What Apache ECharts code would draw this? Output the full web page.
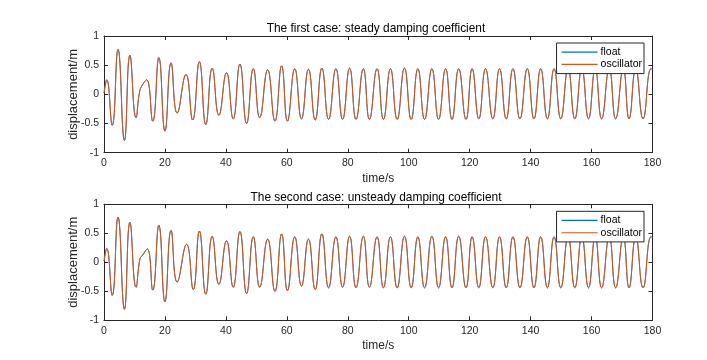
<!DOCTYPE html>
<html>
<head>
<meta charset="utf-8">
<script src="https://cdn.jsdelivr.net/npm/echarts@6/dist/echarts.min.js"></script>
<style>html,body{margin:0;padding:0;background:#fff}#c{width:707px;height:360px}</style>
</head>
<body>
<div id="c"></div>
<script>
// ---- data (extrema of the displacement curves) ----
const titles = ['The first case: steady damping coefficient', 'The second case: unsteady damping coefficient'];
const seriesNames = ['float', 'oscillator'];
const xTicks = { min: 0, max: 180, step: 20 };
const yTicks = { min: -1, max: 1, step: 0.5 };

const case1Time = [0, 0.9, 2.7, 4.6, 6.7, 8.5, 10.5, 11.7, 12.6, 14.0, 16.0, 18.0, 20.0, 22.0, 24.0, 26.9, 29.1, 31.3, 33.4, 35.5, 37.7, 40.2, 42.4, 44.6, 46.8, 49.0, 51.1, 53.7, 56.1, 58.3,
  60.2, 62.6, 64.8, 67.1, 69.3, 71.5, 73.7, 76.1, 78.3, 80.6, 82.7, 85.1, 87.1, 89.6, 91.7, 94.0, 96.2, 98.6, 100.8, 103.0, 105.2, 107.6, 109.8, 112.1, 114.2, 116.4, 118.8,
  120.8, 123.0, 125.2, 127.6, 129.8, 132.0, 134.2, 136.5, 138.9, 141.1, 143.3, 145.5, 147.7, 149.9, 152.3, 154.5, 156.8, 159.0, 161.2, 163.3, 165.8, 167.9, 170.4, 172.3, 174.5, 176.9, 179.5, 180];
const case1Displacement = [0.02, 0.25, -0.53, 0.77, -0.79, 0.67, -0.40, 0.05, 0.16, 0.25, -0.46, 0.63, -0.63, 0.54, -0.32, 0.34, -0.44, 0.56, -0.52, 0.45, -0.36, 0.37, -0.42, 0.52, -0.50, 0.44, -0.40, 0.42, -0.46, 0.49,
  -0.46, 0.44, -0.42, 0.43, -0.44, 0.45, -0.43, 0.44, -0.43, 0.45, -0.43, 0.44, -0.43, 0.44, -0.43, 0.44, -0.43, 0.45, -0.43, 0.44, -0.43, 0.44, -0.43, 0.44, -0.43, 0.44, -0.43,
  0.44, -0.42, 0.44, -0.42, 0.44, -0.42, 0.44, -0.42, 0.44, -0.42, 0.44, -0.42, 0.44, -0.42, 0.44, -0.42, 0.44, -0.42, 0.44, -0.42, 0.44, -0.42, 0.44, -0.42, 0.44, -0.42, 0.44, 0.43];

const case2Time = [0, 0.9, 2.7, 4.6, 6.7, 8.5, 10.5, 11.8, 12.6, 14.2, 16.0, 18.0, 20.0, 22.0, 24.0, 27.1, 29.3, 31.3, 33.4, 35.5, 37.7, 40.2, 42.4, 44.6, 46.8, 49.0, 51.1, 53.7, 56.1, 58.3,
  60.2, 62.6, 64.8, 67.1, 69.3, 71.5, 73.7, 76.1, 78.3, 80.6, 82.7, 85.1, 87.1, 89.6, 91.7, 94.0, 96.2, 98.6, 100.8, 103.0, 105.2, 107.6, 109.8, 112.1, 114.2, 116.4, 118.8,
  120.8, 123.0, 125.2, 127.6, 129.8, 132.0, 134.2, 136.5, 138.9, 141.1, 143.3, 145.5, 147.7, 149.9, 152.3, 154.5, 156.8, 159.0, 161.2, 163.3, 165.8, 167.9, 170.4, 172.3, 174.5, 176.9, 179.5, 180];
const case2Displacement = [0.02, 0.24, -0.57, 0.78, -0.81, 0.69, -0.43, 0.06, 0.12, 0.23, -0.48, 0.64, -0.68, 0.55, -0.34, 0.31, -0.47, 0.54, -0.55, 0.45, -0.38, 0.37, -0.43, 0.53, -0.54, 0.44, -0.43, 0.40, -0.50, 0.49,
  -0.49, 0.44, -0.41, 0.40, -0.47, 0.49, -0.44, 0.44, -0.43, 0.45, -0.44, 0.45, -0.43, 0.44, -0.44, 0.44, -0.44, 0.45, -0.44, 0.44, -0.44, 0.45, -0.44, 0.44, -0.44, 0.45, -0.44,
  0.44, -0.44, 0.44, -0.44, 0.44, -0.44, 0.44, -0.44, 0.44, -0.44, 0.44, -0.44, 0.44, -0.44, 0.44, -0.44, 0.44, -0.44, 0.44, -0.44, 0.44, -0.44, 0.44, -0.44, 0.44, -0.44, 0.44, 0.43];

// ---- chart ----
const FONT = '"Liberation Sans", Arial, sans-serif';
const AX = '#262626';
const colors = ['#0072BD', '#D95319'];
const pairs = (t, v) => t.map((x, i) => [x, v[i]]);
const cases = [pairs(case1Time, case1Displacement), pairs(case2Time, case2Displacement)];
const grids = [{ left: 104, right: 54.5, top: 36, height: 116.7 }, { left: 104, right: 54.5, top: 204.3, height: 116 }];
const titleTops = [18, 187];

const option = { animation: false, backgroundColor: '#fff', grid: [], xAxis: [], yAxis: [], title: [], legend: [], series: [] };
grids.forEach((g, i) => {
  option.grid.push(Object.assign({ show: false }, g));
  option.title.push({ text: titles[i], left: 371, top: titleTops[i], textAlign: 'center',
    textStyle: { fontFamily: FONT, fontSize: 11.9, fontWeight: 'normal', color: '#000' } });
  const tick = { show: true, inside: true, length: 4, lineStyle: { color: AX, width: 1 } };
  const xBase = { type: 'value', gridIndex: i, min: xTicks.min, max: xTicks.max, interval: xTicks.step, splitLine: { show: false },
    axisLine: { show: true, onZero: false, lineStyle: { color: AX, width: 1 } }, axisTick: tick };
  option.xAxis.push(Object.assign({}, xBase, { position: 'bottom', name: 'time/s', nameLocation: 'middle', nameGap: 19.5, nameMoveOverlap: false,
    nameTextStyle: { fontFamily: FONT, fontSize: 12, color: AX },
    axisLabel: { fontFamily: FONT, fontSize: 10.5, color: AX, margin: 5 } }));
  option.xAxis.push(Object.assign({}, xBase, { position: 'top', axisLabel: { show: false } }));
  const yBase = { type: 'value', gridIndex: i, min: yTicks.min, max: yTicks.max, interval: yTicks.step, splitLine: { show: false },
    axisLine: { show: true, onZero: false, lineStyle: { color: AX, width: 1 } }, axisTick: tick };
  option.yAxis.push(Object.assign({}, yBase, { position: 'left', name: 'displacement/m', nameLocation: 'middle', nameRotate: 90, nameGap: 24, nameMoveOverlap: false,
    nameTextStyle: { fontFamily: FONT, fontSize: 13, color: AX },
    axisLabel: { fontFamily: FONT, fontSize: 10.5, color: AX, margin: 5 } }));
  option.yAxis.push(Object.assign({}, yBase, { position: 'right', axisLabel: { show: false } }));
  option.legend.push({ data: seriesNames.map(n => ({ name: n, icon: 'rect' })), orient: 'vertical', right: 63, top: g.top + 7,
    itemWidth: 36, itemHeight: 1.2, itemGap: 0,
    padding: [3, 2, 3, 5], borderColor: AX, borderWidth: 1, backgroundColor: '#fff', align: 'left',
    textStyle: { fontFamily: FONT, fontSize: 10.5, color: '#000', lineHeight: 12.3, padding: [0, 0, 0, -2] } });
  seriesNames.forEach((name, k) => {
    option.series.push({ name, type: 'line', xAxisIndex: 2 * i, yAxisIndex: 2 * i, data: cases[i], smooth: 0.5,
      symbol: 'none', lineStyle: { color: colors[k], width: k === 0 ? 0.9 : 1 }, itemStyle: { color: colors[k] }, z: 2 + k });
  });
});
const chart = echarts.init(document.getElementById('c'), null, { renderer: 'canvas' });
chart.setOption(option);
</script>
</body>
</html>
